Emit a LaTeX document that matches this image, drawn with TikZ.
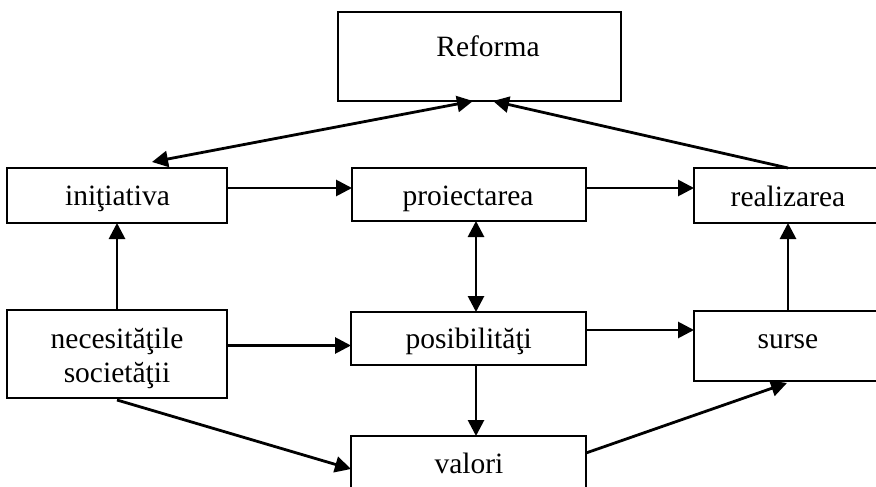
\documentclass[tikz,border=0pt]{standalone}
\usepackage{fontspec}
\setmainfont{Liberation Serif}
\usetikzlibrary{arrows.meta,calc}
\tikzset{
  box/.style={draw=black, line width=1.8pt, inner sep=0pt, outer sep=0pt, fill=white},
  txt/.style={inner sep=0pt, anchor=base, font=\fontsize{29.5}{34}\selectfont},
  arr/.style={line width=2.8pt, -{Triangle[length=16pt,width=16pt]}},
  darr/.style={line width=2.8pt, {Triangle[length=16pt,width=16pt]}-{Triangle[length=16pt,width=16pt]}},
}
\begin{document}
\begin{tikzpicture}[x=1pt,y=-1pt]
\clip (0,0) rectangle (876,487);
\fill[white] (0,0) rectangle (876,487);
% boxes
\node[box, minimum width=283pt, minimum height=89pt] (ref) at (479.5,56.5) {};
\node[box, minimum width=220pt, minimum height=55pt] (ini) at (117,195.5) {};
\node[box, minimum width=234pt, minimum height=53pt] (proj) at (469,194.5) {};
\node[box, minimum width=188pt, minimum height=55pt] (real) at (788,195.5) {};
\node[box, minimum width=220pt, minimum height=88pt] (nec) at (117,354) {};
\node[box, minimum width=235pt, minimum height=53pt] (pos) at (468.5,338.5) {};
\node[box, minimum width=188pt, minimum height=70pt] (surse) at (788,346) {};
\node[box, minimum width=235pt, minimum height=62pt] (val) at (468.5,467) {};
% texts
\node[txt] (refT) at (488,57) {Reforma};
\node[txt] (iniT) at (117.5,205) {iniţiativa};
\node[txt] (projT) at (468,205) {proiectarea};
\node[txt] (realT) at (788,206) {realizarea};
\node[txt] (necT1) at (117,348) {necesităţile};
\node[txt] (necT2) at (117,382) {societăţii};
\node[txt] (posT) at (468.8,348) {posibilităţi};
\node[txt] (surseT) at (788,348) {surse};
\node[txt] (valT) at (469,473) {valori};
% connectors
\draw[darr] ([xshift=35pt,yshift=6pt]ini.north) -- ([xshift=-6.5pt]ref.south);
\draw[arr] (real.north) -- ([xshift=13.5pt]ref.south);
\draw[arr] ([yshift=7.5pt]ini.east) -- ([yshift=7.5pt]ini.east -| proj.west);
\draw[arr] ([yshift=6.5pt]proj.east) -- ([yshift=6.5pt]proj.east -| real.west);
\draw[arr] (nec.north) -- (ini.south);
\draw[darr] ([xshift=7pt]proj.south) -- ([xshift=7pt]proj.south |- pos.north);
\draw[arr] ([yshift=8.5pt]nec.east) -- ([yshift=8.5pt]nec.east -| pos.west);
\draw[arr] ([yshift=8.5pt]pos.east) -- ([yshift=8.5pt]pos.east -| surse.west);
\draw[arr] ([xshift=7.5pt]pos.south) -- ([xshift=7.5pt]pos.south |- val.north);
\draw[arr] (surse.north) -- (real.south);
\draw[arr] ([yshift=-2pt]nec.south) -- ([yshift=-2pt]val.west);
\draw[arr] ([yshift=14pt]val.east) -- ([xshift=-1pt,yshift=-2pt]surse.south);
\end{tikzpicture}
\end{document}
